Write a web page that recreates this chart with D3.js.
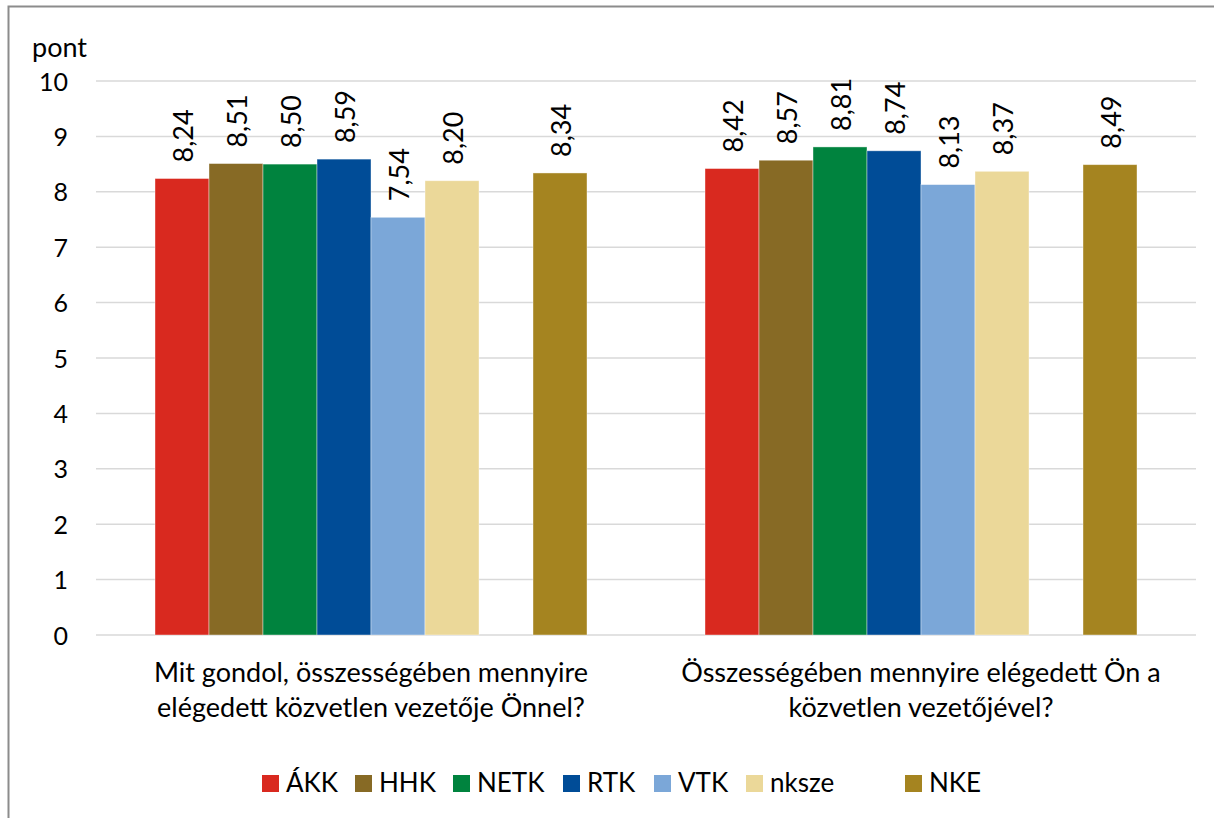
<!DOCTYPE html>
<html lang="hu">
<head>
    <meta charset="UTF-8">
    <title>Elégedettség</title>
    <script src="https://d3js.org/d3.v7.min.js"></script>
    <style>
        body { margin: 0; background: #fff; }
        svg text { font-family: Lato, "Noto Sans", sans-serif; fill: #000; }
    </style>
</head>
<body>
    <svg></svg>

    <script>
        // data
        const categories = [
            ["Mit gondol, összességében mennyire", "elégedett közvetlen vezetője Önnel?"],
            ["Összességében mennyire elégedett Ön a", "közvetlen vezetőjével?"]
        ];
        const seriesNames = ["ÁKK", "HHK", "NETK", "RTK", "VTK", "nksze", "", "NKE"];
        const seriesColors = ["#d9291f", "#876a25", "#00833e", "#004c97", "#7ba7d8", "#ebd899", "none", "#a58420"];
        const valuesQ1 = [8.24, 8.51, 8.50, 8.59, 7.54, 8.20, null, 8.34];
        const valuesQ2 = [8.42, 8.57, 8.81, 8.74, 8.13, 8.37, null, 8.49];
        const yTicks = [0, 1, 2, 3, 4, 5, 6, 7, 8, 9, 10];

        const width = 1214;
        const height = 818;
        const margin = {top: 81, bottom: 183, right: 18, left: 96};

        const svg = d3.select('svg')
            .attr('width', width)
            .attr('height', height)
            .attr('viewBox', [0, 0, width, height]);

        // frame
        svg.append('path')
            .attr('d', `M8.5,${height} V6.5 H${width}`)
            .attr('fill', 'none')
            .attr('stroke', '#8c8c8c')
            .attr('stroke-width', 2);

        const catIdx = categories.map((d, i) => i);
        const x_scale = d3.scaleBand().domain(catIdx).range([margin.left, width - margin.right]);
        const inner = d3.scaleBand().domain(seriesNames.map((d, i) => i)).range([59, x_scale.bandwidth() - 59]);
        const y_scale = d3.scaleLinear().domain([0, 10]).range([height - margin.bottom, margin.top]);

        // gridlines
        svg.append('g')
            .selectAll('line')
            .data(yTicks)
            .join('line')
            .attr('x1', margin.left)
            .attr('x2', width - margin.right)
            .attr('y1', d => y_scale(d))
            .attr('y2', d => y_scale(d))
            .attr('stroke', '#d9d9d9')
            .attr('stroke-width', 1.5);

        // y axis labels
        const y_axis = d3.axisLeft(y_scale).tickValues(yTicks).tickSize(0).tickPadding(0);
        const gy = svg.append('g')
            .attr('transform', `translate(68,0)`)
            .call(y_axis);
        gy.select('.domain').remove();
        gy.selectAll('text')
            .style('font-size', '25px')
            .style('font-family', 'Lato, sans-serif')
            .attr('dy', '0.36em');

        svg.append('text')
            .attr('x', 32)
            .attr('y', 57)
            .style('font-size', '27px')
            .text('pont');

        const rows = [valuesQ1, valuesQ2];
        const barData = [];
        rows.forEach((vals, ci) => {
            vals.forEach((v, si) => {
                if (v !== null) barData.push({ci, si, v});
            });
        });

        // bars
        svg.append('g')
            .selectAll('rect')
            .data(barData)
            .join('rect')
            .attr('x', d => x_scale(d.ci) + inner(d.si))
            .attr('y', d => y_scale(d.v))
            .attr('width', inner.bandwidth())
            .attr('height', d => y_scale(0) - y_scale(d.v))
            .attr('fill', d => seriesColors[d.si])
            .attr('stroke', '#fff')
            .attr('stroke-opacity', 0.5)
            .attr('stroke-width', 0.8);

        // value labels (rotated)
        svg.append('g')
            .selectAll('text')
            .data(barData)
            .join('text')
            .attr('transform', d => `translate(${x_scale(d.ci) + inner(d.si) + inner.bandwidth() / 2 + 11},${y_scale(d.v) - 16}) rotate(-90)`)
            .style('font-size', '27px')
            .text(d => d3.format('.2f')(d.v).replace('.', ','));

        // category labels
        const catG = svg.append('g')
            .selectAll('text')
            .data(catIdx)
            .join('text')
            .attr('x', d => x_scale(d) + x_scale.bandwidth() / 2)
            .attr('y', 682)
            .attr('text-anchor', 'middle')
            .style('font-size', '27px');
        catG.selectAll('tspan')
            .data(d => categories[d])
            .join('tspan')
            .attr('x', function () { return d3.select(this.parentNode).attr('x'); })
            .attr('dy', (d, i) => i === 0 ? 0 : 35)
            .text(d => d);

        // legend
        const legendX = [262, 355, 453, 563, 654, 746, 0, 905];
        const legend = svg.append('g')
            .selectAll('g')
            .data(seriesNames.map((n, i) => ({n, i})).filter(d => d.n !== ''))
            .join('g')
            .attr('transform', d => `translate(${legendX[d.i]},775)`);
        legend.append('rect')
            .attr('width', 17)
            .attr('height', 17)
            .attr('fill', d => seriesColors[d.i]);
        legend.append('text')
            .attr('x', 24)
            .attr('y', 17)
            .style('font-size', '26px')
            .text(d => d.n);
    </script>
</body>
</html>
